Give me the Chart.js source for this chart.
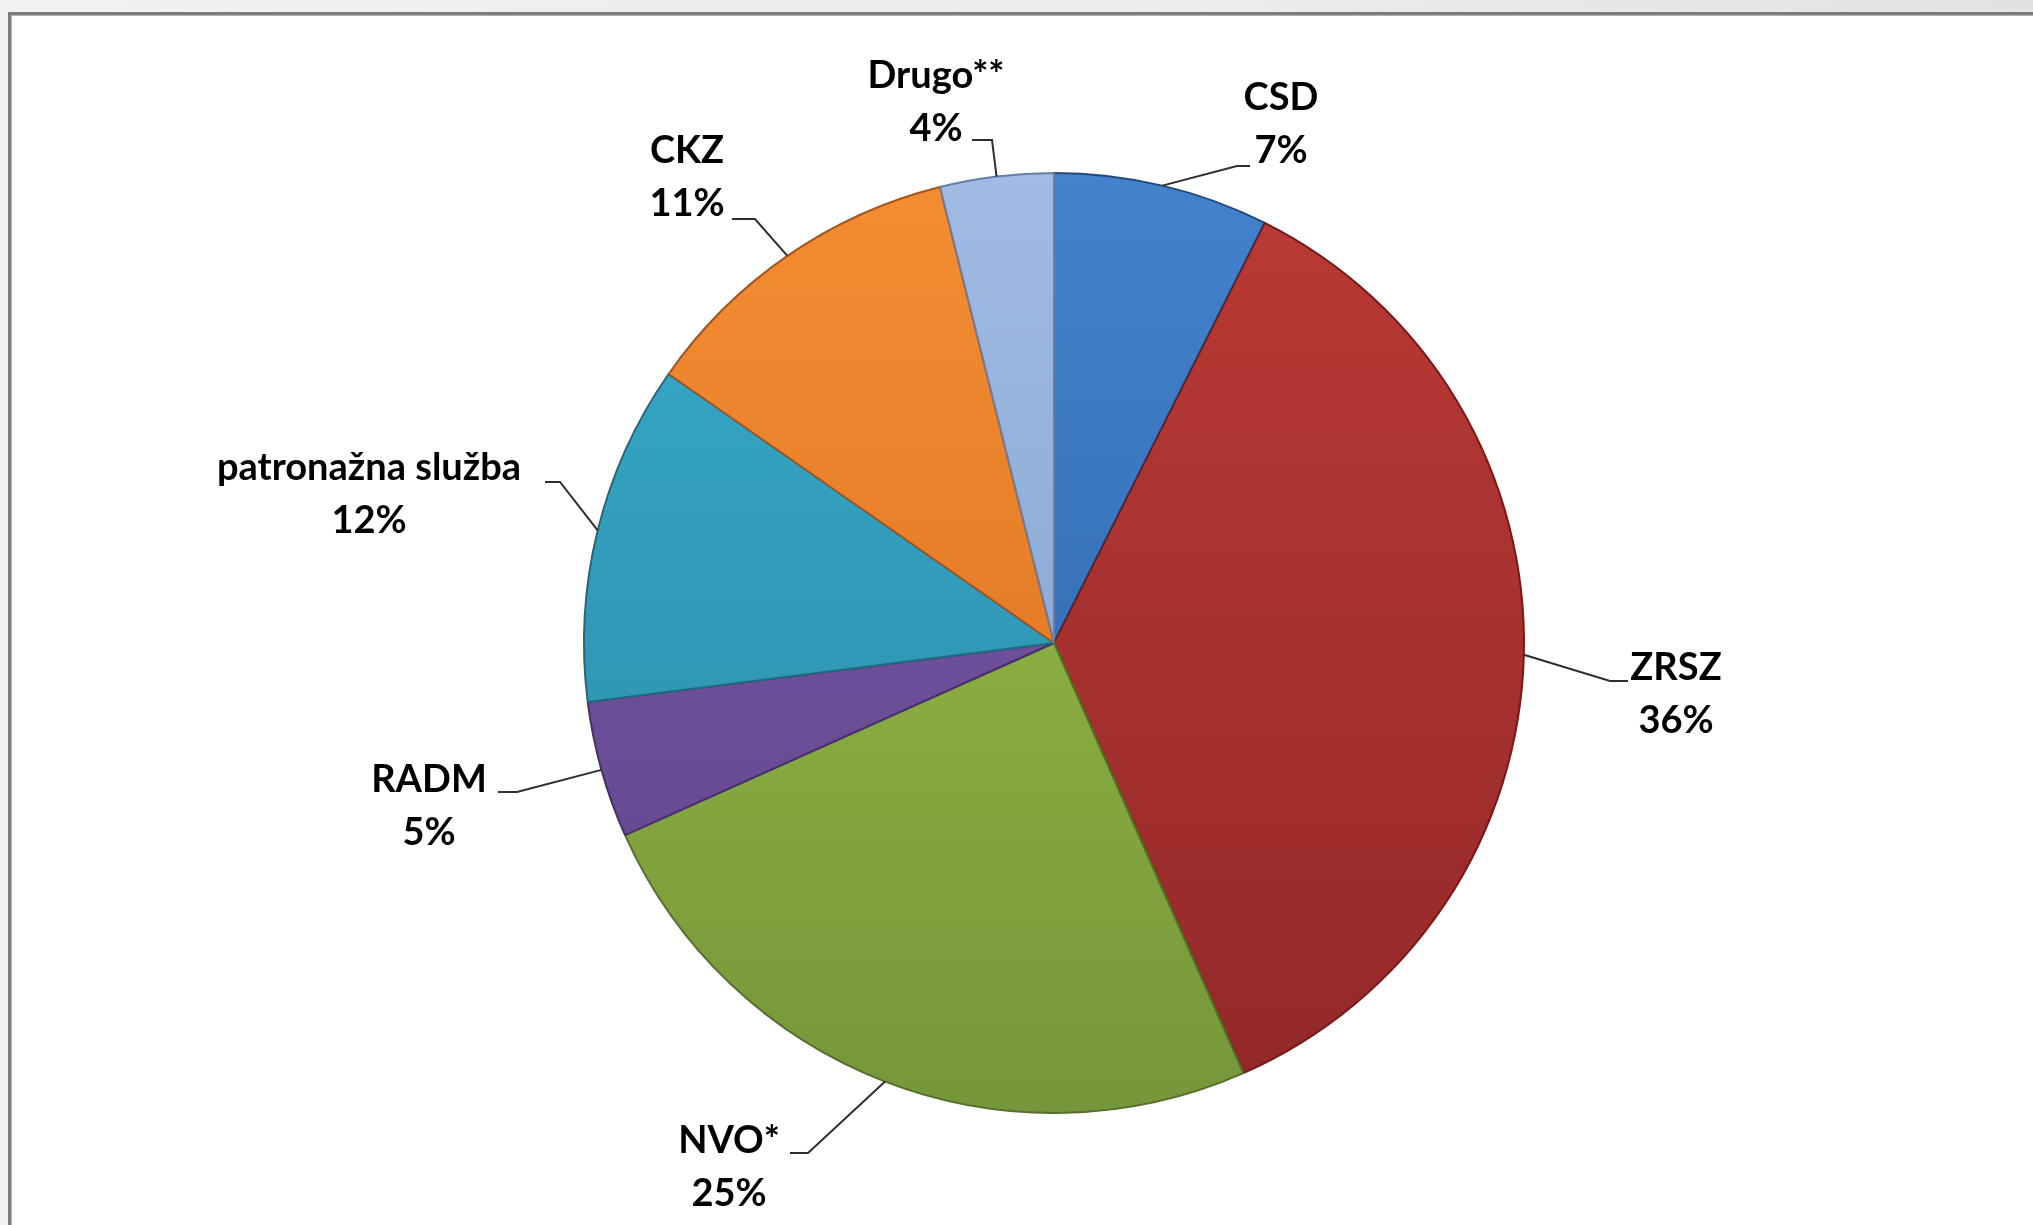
<!DOCTYPE html>
<html>
<head>
<meta charset="utf-8">
<script src="https://cdn.jsdelivr.net/npm/chart.js@4.4.1/dist/chart.umd.min.js"></script>
<style>
  html, body { margin: 0; padding: 0; width: 2033px; height: 1225px; overflow: hidden;
    background: linear-gradient(90deg, #f1f1f1 0%, #ececec 60%, #e2e2e2 100%); }
  #frame { position: absolute; left: 8px; top: 12px; width: 2100px; height: 1300px;
    background: #ffffff; border-left: 3px solid #7c7c7c; border-top: 3px solid #7c7c7c;
    box-shadow: inset 1px 1px 0 #b4b4b4; }
  #wrap { position: absolute; left: 0; top: 0; width: 2033px; height: 1225px; }
</style>
</head>
<body>
<div id="frame"></div>
<div id="wrap"><canvas id="c" width="2033" height="1225"></canvas></div>
<script>
// ---- data ----
const categories = ['CSD', 'ZRSZ', 'NVO*', 'RADM', 'patronažna služba', 'CKZ', 'Drugo**'];
const shares = [7.4, 36.0, 24.9, 4.7, 11.7, 11.4, 3.9];
// ---- styling ----
const topColors    = ['#4283cc', '#bb3a36', '#a0c447', '#7d5aab', '#38abcb', '#f38d33', '#a0bce4'];
const bottomColors = ['#2d60a3', '#922828', '#75963a', '#5f438a', '#2a87a3', '#d96d1f', '#7c9bcb'];
const edgeColors   = ['#234a80', '#6e1c1c', '#56702a', '#463266', '#1f6a80', '#a85316', '#637ea9'];
// label layout (center x, first baseline y) and leader elbow/end points
const labelPos = [[1281, 110], [1676, 680], [729, 1153], [429, 792], [369, 480], [687, 163], [936, 88]];
const leaderPts = [
  [[1237, 166], [1250, 166]],
  [[1610, 681], [1628, 681]],
  [[808, 1153], [790, 1153]],
  [[517, 792], [498, 792]],
  [[560, 482], [545, 482]],
  [[755, 219], [732, 219]],
  [[992, 140], [972, 140]]
];
const LINE_GAP = 53;

function grad(ctx, area, i) {
  if (!area) return topColors[i];
  const g = ctx.createLinearGradient(0, area.top, 0, area.bottom);
  g.addColorStop(0, topColors[i]);
  g.addColorStop(1, bottomColors[i]);
  return g;
}

const labelPlugin = {
  id: 'outLabels',
  afterDatasetsDraw(chart) {
    const ctx = chart.ctx;
    const meta = chart.getDatasetMeta(0);
    const total = shares.reduce((a, b) => a + b, 0);
    ctx.save();
    ctx.strokeStyle = '#2e2e2e';
    ctx.lineWidth = 2;
    meta.data.forEach((arc, i) => {
      const p = arc.getProps(['x', 'y', 'startAngle', 'endAngle', 'outerRadius'], true);
      const mid = (p.startAngle + p.endAngle) / 2;
      const sx = p.x + Math.cos(mid) * p.outerRadius;
      const sy = p.y + Math.sin(mid) * p.outerRadius;
      ctx.beginPath();
      ctx.moveTo(sx, sy);
      ctx.lineTo(leaderPts[i][0][0], leaderPts[i][0][1]);
      ctx.lineTo(leaderPts[i][1][0], leaderPts[i][1][1]);
      ctx.stroke();
    });
    ctx.fillStyle = '#000000';
    ctx.font = 'bold 38px Lato, "Open Sans", sans-serif';
    ctx.textAlign = 'center';
    ctx.textBaseline = 'alphabetic';
    categories.forEach((name, i) => {
      const [x, y] = labelPos[i];
      ctx.fillText(name, x, y);
      ctx.fillText(Math.round(shares[i] / total * 100) + '%', x, y + LINE_GAP);
    });
    ctx.restore();
  }
};

function build() {
  new Chart(document.getElementById('c'), {
    type: 'pie',
    data: {
      labels: categories,
      datasets: [{
        data: shares,
        backgroundColor: (c) => grad(c.chart.ctx, c.chart.chartArea, c.dataIndex),
        borderColor: edgeColors,
        borderWidth: 2,
        hoverOffset: 0
      }]
    },
    options: {
      responsive: false,
      animation: false,
      events: [],
      layout: { padding: { left: 583, right: 508, top: 172, bottom: 111 } },
      plugins: { legend: { display: false }, tooltip: { enabled: false } }
    },
    plugins: [labelPlugin]
  });
}
if (document.fonts && document.fonts.load) {
  document.fonts.load('bold 38px Lato').then(build, build);
} else { build(); }
</script>
</body>
</html>
